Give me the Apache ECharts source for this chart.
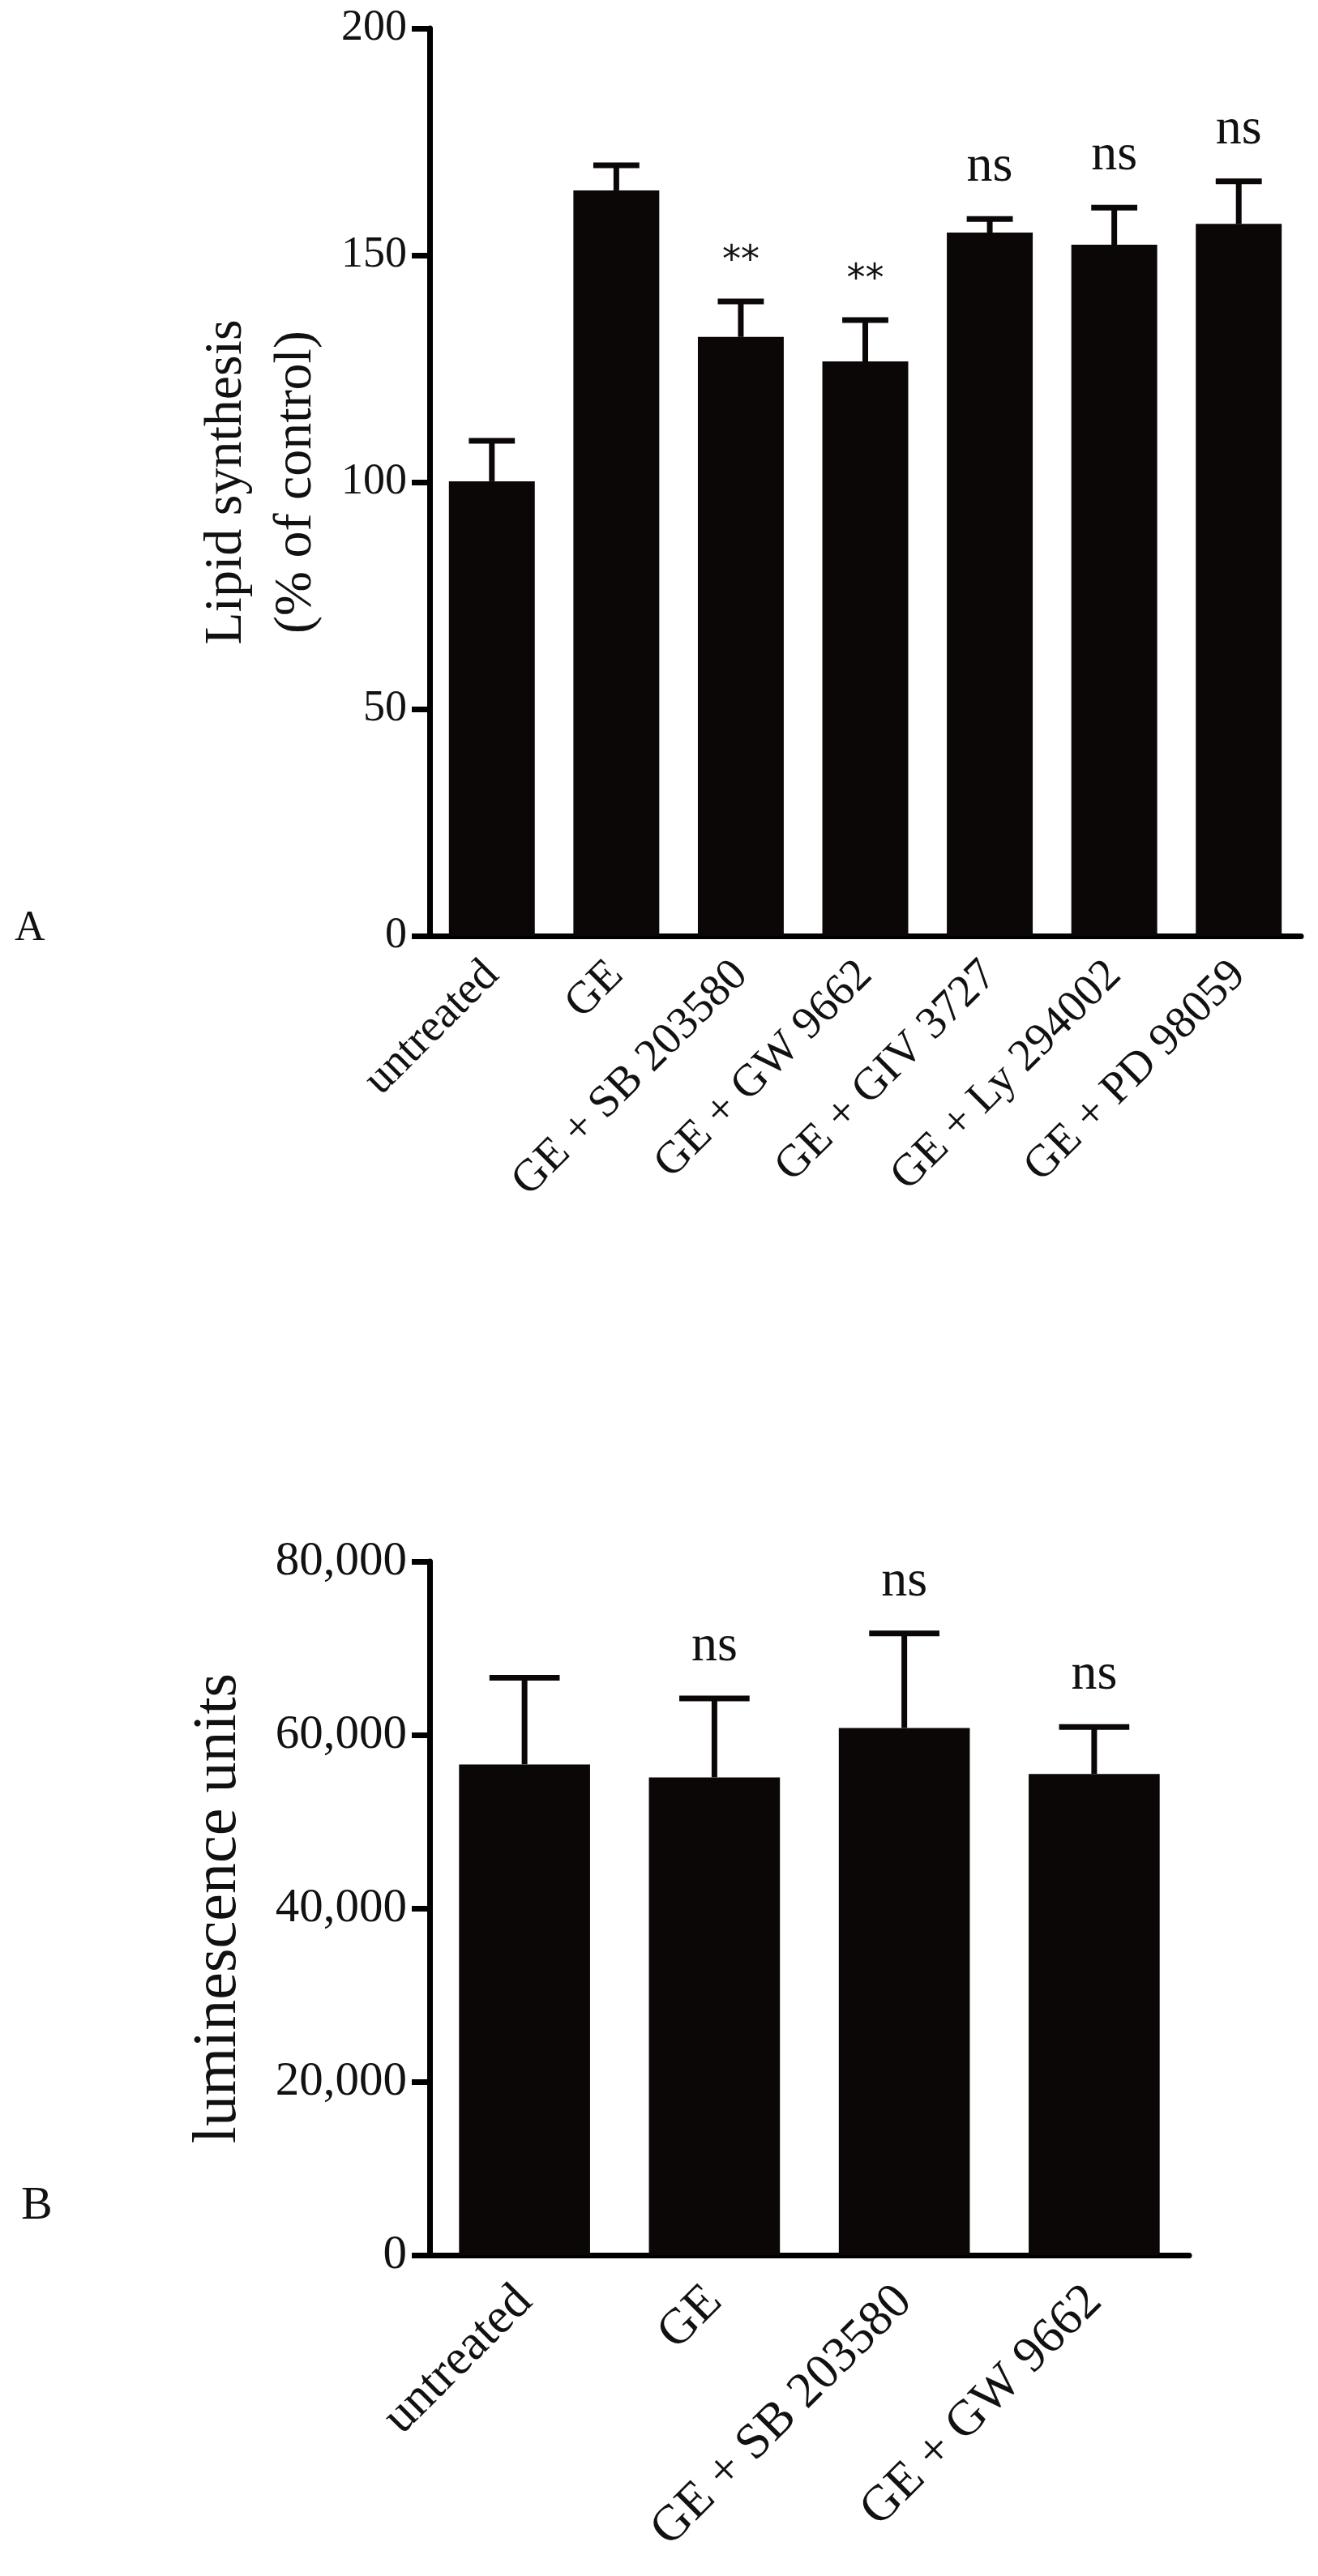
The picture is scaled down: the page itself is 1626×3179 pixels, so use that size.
<!DOCTYPE html>
<html>
<head>
<meta charset="utf-8">
<title>Lipid synthesis / luminescence</title>
<script src="https://cdn.jsdelivr.net/npm/echarts@6/dist/echarts.min.js"></script>
<style>
  html, body { margin: 0; padding: 0; background: #fff; }
  #chart { width: 1626px; height: 3179px; }
</style>
</head>
<body>
<div id="chart"></div>
<script>
// panel A: lipid synthesis (% of control)
const catsA = ['untreated', 'GE', 'GE + SB 203580', 'GE + GW 9662', 'GE + GIV 3727', 'GE + Ly 294002', 'GE + PD 98059'];
const meanA = [100.2, 164.3, 132, 126.6, 155, 152.3, 156.9];
const semA = [8.9, 5.5, 7.8, 9.1, 3, 8.2, 9.4];
const sigA = ['', '', '**', '**', 'ns', 'ns', 'ns'];
const ticksA = [0, 50, 100, 150, 200];

// panel B: luminescence units
const catsB = ['untreated', 'GE', 'GE + SB 203580', 'GE + GW 9662'];
const meanB = [56600, 55100, 60800, 55500];
const semB = [10000, 9100, 10900, 5400];
const sigB = ['', 'ns', 'ns', 'ns'];
const ticksB = [0, 20000, 40000, 60000, 80000];

const SERIF = '"Liberation Serif", "Times New Roman", serif';
const INK = '#0b0706';

const myChart = echarts.init(document.getElementById('chart'));

// error bar (upper only) plus the significance mark above it
function errorBars(sig) {
  return function (params, api) {
    const i = api.value(0);
    const base = api.coord([i, api.value(1)]);
    const top = api.coord([i, api.value(2)]);
    const half = api.size([1, 0])[0] * 0.185;
    const children = [
      { type: 'line', shape: { x1: base[0], y1: base[1], x2: top[0], y2: top[1] },
        style: { stroke: INK, lineWidth: 7 } },
      { type: 'line', shape: { x1: top[0] - half, y1: top[1], x2: top[0] + half, y2: top[1] },
        style: { stroke: INK, lineWidth: 7 } }
    ];
    const s = sig[params.dataIndex];
    if (s) {
      const star = s.indexOf('*') >= 0;
      children.push({
        type: 'text',
        style: {
          text: s,
          x: top[0],
          y: star ? top[1] - 26 : top[1] - 32,
          align: 'center',
          verticalAlign: 'bottom',
          fill: '#111',
          font: star ? '46px "DejaVu Sans", sans-serif' : '64px ' + SERIF
        }
      });
    }
    return { type: 'group', children: children };
  };
}

function catAxis(gridIndex, cats, fontSize, margin) {
  return {
    type: 'category',
    gridIndex: gridIndex,
    data: cats,
    axisLine: { lineStyle: { color: '#000', width: 7 } },
    axisTick: { alignWithLabel: true, length: 22, lineStyle: { color: '#000', width: 7 } },
    axisLabel: {
      interval: 0,
      rotate: 45,
      margin: margin,
      color: '#111',
      fontFamily: SERIF,
      fontSize: fontSize
    }
  };
}

function valAxis(gridIndex, ticks, name, nameGap, fontSize, nameSize, nameLH, fmt) {
  return {
    type: 'value',
    gridIndex: gridIndex,
    min: ticks[0],
    max: ticks[ticks.length - 1],
    interval: ticks[1] - ticks[0],
    name: name,
    nameLocation: 'middle',
    nameRotate: 90,
    nameGap: nameGap,
    nameTextStyle: { fontFamily: SERIF, fontSize: nameSize, lineHeight: nameLH, color: '#111' },
    axisLine: { show: true, lineStyle: { color: '#000', width: 7 } },
    axisTick: { show: true, length: 22, lineStyle: { color: '#000', width: 7 } },
    axisLabel: { margin: 28, color: '#111', fontFamily: SERIF, fontSize: fontSize, formatter: fmt },
    splitLine: { show: false }
  };
}

const option = {
  backgroundColor: '#fff',
  animation: false,
  grid: [
    { left: 530, top: 35, width: 1075, height: 1120 },
    { left: 530, top: 1927, width: 937, height: 856 }
  ],
  xAxis: [
    catAxis(0, catsA, 56, 40),
    catAxis(1, catsB, 62, 48)
  ],
  yAxis: [
    valAxis(0, ticksA, 'Lipid synthesis\n(% of control)', 121, 54, 66, 86, null),
    valAxis(1, ticksB, 'luminescence units', 220, 59, 76, 80,
      v => v.toLocaleString('en-US'))
  ],
  graphic: [
    { type: 'text', left: 18, top: 1120, style: { text: 'A', font: '52px ' + SERIF, fill: '#111' } },
    { type: 'text', left: 26, top: 2694, style: { text: 'B', font: '58px ' + SERIF, fill: '#111' } }
  ],
  series: [
    {
      type: 'bar', xAxisIndex: 0, yAxisIndex: 0, barWidth: '69%',
      itemStyle: { color: INK }, data: meanA
    },
    {
      type: 'custom', xAxisIndex: 0, yAxisIndex: 0, z: 3,
      renderItem: errorBars(sigA),
      encode: { x: 0, y: [1, 2] },
      data: meanA.map((m, i) => [i, m, m + semA[i]])
    },
    {
      type: 'bar', xAxisIndex: 1, yAxisIndex: 1, barWidth: '69%',
      itemStyle: { color: INK }, data: meanB
    },
    {
      type: 'custom', xAxisIndex: 1, yAxisIndex: 1, z: 3,
      renderItem: errorBars(sigB),
      encode: { x: 0, y: [1, 2] },
      data: meanB.map((m, i) => [i, m, m + semB[i]])
    }
  ]
};

myChart.setOption(option);
</script>
</body>
</html>
